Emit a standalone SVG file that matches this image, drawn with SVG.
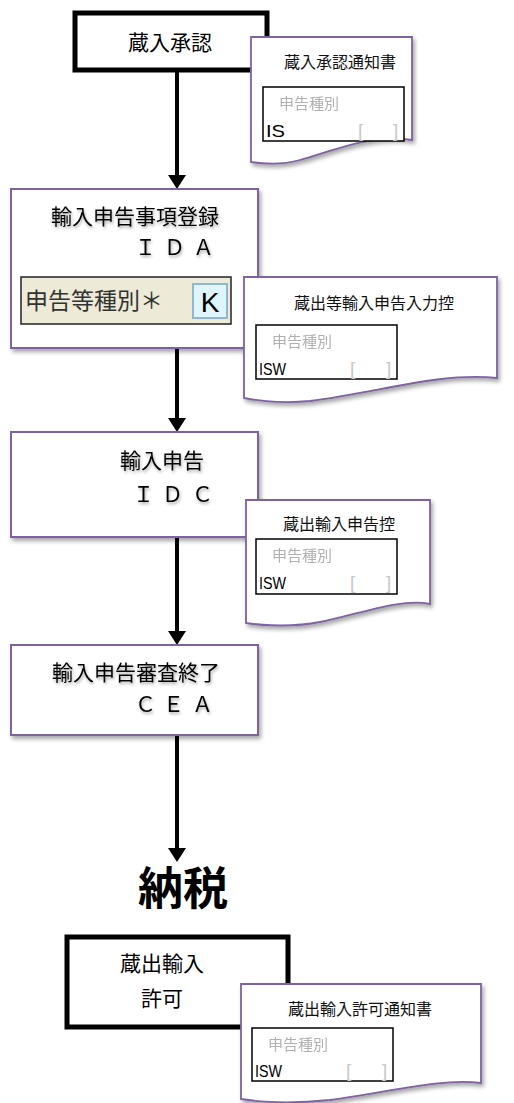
<svg xmlns="http://www.w3.org/2000/svg" width="514" height="1103" viewBox="0 0 514 1103">
<defs>
<style>
.jp{font-family:"Noto Sans CJK JP","Noto Sans",sans-serif;}
.ttl{font-size:21px;fill:#000;text-anchor:middle;}
.fw{font-size:21px;fill:#000;}
.blk{fill:#fff;stroke:#000;stroke-width:5;}
.pbox{fill:#fff;stroke:#7E63A0;stroke-width:2;}
.doc{fill:#fff;stroke:#7E63A0;stroke-width:1.8;}
.dtt{font-size:16px;fill:#111;text-anchor:middle;}
.frm{fill:#fff;stroke:#000;stroke-width:1.5;}
.gry{font-size:15px;fill:#b0b0b0;}
.cod{font-family:"Liberation Sans",sans-serif;font-size:17px;fill:#000;}
.brk{font-family:"Liberation Sans",sans-serif;font-size:19px;fill:#c8c8c8;}
.con{stroke:#000;stroke-width:4;fill:none;}
</style>
<filter id="sh" x="-10%" y="-10%" width="130%" height="140%">
<feDropShadow dx="2" dy="3" stdDeviation="2" flood-color="#000" flood-opacity="0.35"/>
</filter>
<filter id="tsh" x="-10%" y="-20%" width="130%" height="150%">
<feDropShadow dx="1" dy="2" stdDeviation="1.5" flood-color="#000" flood-opacity="0.35"/>
</filter>
<filter id="bl" x="-5%" y="-20%" width="110%" height="140%">
<feGaussianBlur stdDeviation="0.5"/>
</filter>
<marker id="ah" markerWidth="4" markerHeight="5" refX="2.5" refY="2.25" orient="auto" markerUnits="strokeWidth">
<path d="M0,0 L3.5,2.25 L0,4.5 Z" fill="#000"/>
</marker>
</defs>
<rect width="514" height="1103" fill="#fff"/>

<g id="connectors">
<line class="con" x1="177" y1="70" x2="177" y2="185" marker-end="url(#ah)"/>
<line class="con" x1="177" y1="349" x2="177" y2="428" marker-end="url(#ah)"/>
<line class="con" x1="177" y1="537" x2="177" y2="641" marker-end="url(#ah)"/>
<line class="con" x1="177" y1="735" x2="177" y2="858" marker-end="url(#ah)"/>
</g>

<g id="n1">
<rect class="blk" x="75" y="13" width="192" height="57"/>
<text class="jp ttl" x="170" y="50" font-size="29">蔵入承認</text>
</g>

<g id="d1" filter="url(#sh)">
<path class="doc" d="M251,37 H412 V140 C372,134 335,150 300,160 C282,165 265,164 251,162 Z"/>
</g>
<g id="d1t">
<text class="jp dtt" x="340" y="68">蔵入承認通知書</text>
<rect class="frm" x="263" y="87" width="141" height="54"/>
<text class="jp gry" x="279" y="109" filter="url(#bl)">申告種別</text>
<text class="cod" x="266" y="137" textLength="19" lengthAdjust="spacingAndGlyphs">IS</text>
<text class="brk" x="358" y="137">[</text>
<text class="brk" x="393" y="137">]</text>
</g>

<g id="n2">
<rect class="pbox" x="11" y="189" width="247" height="159" filter="url(#sh)"/>
<g filter="url(#tsh)">
<text class="jp ttl" x="135" y="224">輸入申告事項登録</text>
<text class="jp fw" x="135 164 193" y="255">ＩＤＡ</text>
</g>
<rect x="21" y="277" width="210" height="47" fill="#EDEAD8" stroke="#222" stroke-width="1.5"/>
<text class="jp" x="25" y="309" font-size="23" fill="#333">申告等種別＊</text>
<rect x="193" y="284" width="34" height="34" fill="#DDF5FB" stroke="#8FB8D0" stroke-width="2"/>
<text x="210" y="312" font-family="Liberation Sans,sans-serif" font-size="28" text-anchor="middle" fill="#000">K</text>
</g>

<g id="d2" filter="url(#sh)">
<path class="doc" d="M244,277 H497 V378 C440,372 380,392 310,401 C280,404 260,401 244,398 Z"/>
</g>
<g id="d2t">
<text class="jp dtt" x="374" y="309" font-size="21">蔵出等輸入申告入力控</text>
<rect class="frm" x="256" y="325" width="141" height="54"/>
<text class="jp gry" x="272" y="347" filter="url(#bl)">申告種別</text>
<text class="cod" x="259" y="375" textLength="27" lengthAdjust="spacingAndGlyphs">ISW</text>
<text class="brk" x="350" y="375">[</text>
<text class="brk" x="386" y="375">]</text>
</g>

<g id="n3">
<rect class="pbox" x="11" y="432" width="247" height="105" filter="url(#sh)"/>
<g filter="url(#tsh)">
<text class="jp ttl" x="162" y="468" font-size="23">輸入申告</text>
<text class="jp fw" x="133 162 192" y="502">ＩＤＣ</text>
</g>
</g>

<g id="d3" filter="url(#sh)">
<path class="doc" d="M246,500 H430 V604 C400,598 360,614 320,622 C295,627 265,626 246,623 Z"/>
</g>
<g id="d3t">
<text class="jp dtt" x="339" y="530" font-size="17">蔵出輸入申告控</text>
<rect class="frm" x="256" y="539" width="141" height="55"/>
<text class="jp gry" x="272" y="561" filter="url(#bl)">申告種別</text>
<text class="cod" x="259" y="589" textLength="27" lengthAdjust="spacingAndGlyphs">ISW</text>
<text class="brk" x="350" y="589">[</text>
<text class="brk" x="386" y="589">]</text>
</g>

<g id="n4">
<rect class="pbox" x="11" y="645" width="247" height="90" filter="url(#sh)"/>
<g filter="url(#tsh)">
<text class="jp ttl" x="136" y="680">輸入申告審査終了</text>
<text class="jp fw" x="135 163 192" y="712">ＣＥＡ</text>
</g>
</g>

<g id="n5">
<text class="jp" x="183" y="905" font-size="45" font-weight="bold" text-anchor="middle">納税</text>
</g>

<g id="n6">
<rect class="blk" x="67" y="937" width="221" height="90"/>
<text class="jp ttl" x="162" y="971" font-size="23">蔵出輸入</text>
<text class="jp ttl" x="162" y="1006" font-size="23">許可</text>
</g>

<g id="d5" filter="url(#sh)">
<path class="doc" d="M241,984 H481 V1083 C440,1078 390,1092 330,1100 C290,1104 260,1102 241,1099 Z"/>
</g>
<g id="d5t">
<text class="jp dtt" x="360" y="1015" font-size="21">蔵出輸入許可通知書</text>
<rect class="frm" x="252" y="1028" width="141" height="53"/>
<text class="jp gry" x="268" y="1050" filter="url(#bl)">申告種別</text>
<text class="cod" x="255" y="1077" textLength="27" lengthAdjust="spacingAndGlyphs">ISW</text>
<text class="brk" x="346" y="1077">[</text>
<text class="brk" x="382" y="1077">]</text>
</g>
</svg>
